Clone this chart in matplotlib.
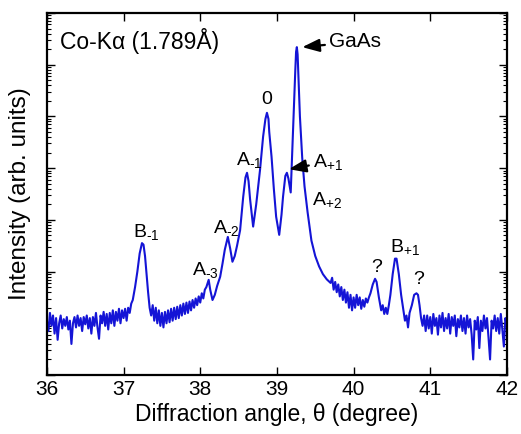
import numpy as np
import matplotlib
matplotlib.use("Agg")
import matplotlib.pyplot as plt
from matplotlib.ticker import LogLocator, NullFormatter, FixedLocator

# ---------------------------------------------------------------------------
# Data: diffraction angle (deg) and log10 intensity
# ---------------------------------------------------------------------------
theta_left = [36.00, 36.02, 36.04, 36.06, 36.08, 36.10, 36.12, 36.14, 36.16, 36.18,
              36.20, 36.22, 36.24, 36.26, 36.28, 36.30, 36.32, 36.34, 36.36, 36.38,
              36.40, 36.42, 36.44, 36.46, 36.48, 36.50, 36.52, 36.54, 36.56, 36.58,
              36.60, 36.62, 36.64, 36.66, 36.68, 36.70, 36.72, 36.74, 36.76, 36.78,
              36.80, 36.82, 36.84, 36.86, 36.88, 36.90, 36.92, 36.94, 36.96, 36.98,
              37.00, 37.02, 37.04, 37.06, 37.08, 37.10]
logI_left = [1.05, 0.85, 1.20, 0.95, 1.15, 0.80, 1.10, 0.68, 1.00, 1.15,
             0.90, 1.08, 0.95, 1.12, 0.88, 1.05, 0.60, 1.00, 1.12, 0.92,
             1.15, 0.95, 1.10, 0.85, 1.12, 0.98, 1.15, 0.90, 1.10, 0.80,
             1.12, 0.95, 1.20, 0.92, 0.70, 1.15, 1.00, 1.22, 0.95, 1.18,
             0.88, 1.20, 1.00, 1.25, 0.95, 1.22, 1.05, 1.28, 1.00, 1.25,
             1.10, 1.28, 1.05, 1.30, 1.20, 1.38]

# B-1 satellite
theta_b1 = [37.12, 37.15, 37.18, 37.21, 37.24, 37.26, 37.28, 37.30, 37.32, 37.34]
logI_b1 = [1.45, 1.70, 2.00, 2.35, 2.55, 2.52, 2.30, 1.95, 1.60, 1.30]

theta_mid = [37.36, 37.38, 37.40, 37.42, 37.44, 37.46, 37.48, 37.50, 37.52, 37.54,
             37.56, 37.58, 37.60, 37.62, 37.64, 37.66, 37.68, 37.70, 37.72, 37.74,
             37.76, 37.78, 37.80, 37.82, 37.84, 37.86, 37.88, 37.90, 37.92, 37.94,
             37.96, 37.98, 38.00, 38.02, 38.04, 38.06, 38.08]
logI_mid = [1.15, 1.35, 1.05, 1.30, 1.00, 1.25, 0.95, 1.20, 0.92, 1.22,
            1.00, 1.25, 1.02, 1.28, 1.05, 1.30, 1.08, 1.32, 1.10, 1.35,
            1.15, 1.38, 1.18, 1.40, 1.20, 1.42, 1.25, 1.45, 1.30, 1.48,
            1.35, 1.52, 1.40, 1.58, 1.48, 1.65, 1.70]

# superlattice satellites A-3 ... A+2 and the GaAs substrate peak
theta_main = [38.11, 38.13, 38.16, 38.19, 38.22, 38.26, 38.29, 38.32, 38.36, 38.39,
              38.42, 38.45, 38.48, 38.52, 38.56, 38.59, 38.61, 38.63, 38.65, 38.69,
              38.73, 38.78, 38.82, 38.85, 38.87, 38.89, 38.90, 38.93, 38.96, 38.99,
              39.03, 39.06, 39.08, 39.11, 39.13, 39.15, 39.18, 39.21, 39.24, 39.25,
              39.26, 39.27, 39.28, 39.30, 39.33, 39.36, 39.40, 39.45, 39.50, 39.55,
              39.60, 39.65]
logI_main = [1.84, 1.65, 1.45, 1.55, 1.72, 1.90, 2.15, 2.42, 2.67, 2.45,
             2.19, 2.30, 2.50, 2.80, 3.44, 3.82, 3.91, 3.75, 3.40, 2.87,
             3.30, 3.97, 4.61, 4.95, 5.07, 4.95, 4.70, 4.22, 3.60, 3.06,
             2.71, 3.10, 3.45, 3.85, 3.91, 3.80, 3.53, 4.74, 5.90, 6.25,
             6.34, 6.20, 5.80, 5.00, 4.20, 3.65, 3.15, 2.60, 2.30, 2.10,
             1.95, 1.85]

# tail, the two unknown peaks ("?") and B+1
theta_right = [39.70, 39.72, 39.74, 39.76, 39.78, 39.80, 39.82, 39.84, 39.86, 39.88,
               39.90, 39.92, 39.94, 39.96, 39.98, 40.00, 40.02, 40.04, 40.06, 40.08,
               40.10, 40.12, 40.14, 40.16, 40.18, 40.20, 40.22, 40.25, 40.28, 40.30,
               40.33, 40.36, 40.38, 40.40, 40.42, 40.44, 40.46, 40.48, 40.51, 40.54,
               40.56, 40.59, 40.62, 40.65, 40.67, 40.69, 40.71, 40.73, 40.76, 40.79,
               40.82, 40.84, 40.86, 40.88, 40.90, 40.92]
logI_right = [1.78, 1.88, 1.65, 1.80, 1.60, 1.75, 1.52, 1.70, 1.45, 1.65,
              1.40, 1.60, 1.30, 1.55, 1.25, 1.50, 1.30, 1.55, 1.35, 1.50,
              1.28, 1.45, 1.32, 1.48, 1.40, 1.50, 1.58, 1.75, 1.86, 1.80,
              1.50, 1.25, 1.35, 1.18, 1.30, 1.18, 1.35, 1.55, 1.95, 2.25,
              2.25, 1.95, 1.55, 1.25, 1.05, 1.15, 0.92, 1.20, 1.35, 1.55,
              1.58, 1.55, 1.35, 1.10, 0.95, 1.15]

theta_end = [40.94, 40.96, 40.98, 41.00, 41.02, 41.04, 41.06, 41.08, 41.10, 41.12,
             41.14, 41.16, 41.18, 41.20, 41.22, 41.24, 41.26, 41.28, 41.30, 41.32,
             41.34, 41.36, 41.38, 41.40, 41.42, 41.44, 41.46, 41.48, 41.50, 41.52,
             41.54, 41.56, 41.58, 41.60, 41.62, 41.64, 41.66, 41.68, 41.70, 41.72,
             41.74, 41.76, 41.78, 41.80, 41.82, 41.84, 41.86, 41.88, 41.90, 41.92,
             41.94, 41.96, 41.98, 42.00]
logI_end = [0.85, 1.15, 0.90, 1.12, 0.80, 1.18, 0.95, 1.10, 0.78, 1.15,
            0.92, 1.20, 0.85, 1.10, 0.90, 1.18, 0.80, 1.12, 0.95, 1.15,
            0.75, 1.08, 0.92, 1.15, 0.85, 1.10, 0.80, 1.15, 0.92, 1.08,
            0.78, 0.30, 1.05, 0.88, 1.12, 0.52, 1.05, 0.85, 1.15, 0.90,
            1.10, 0.72, 0.30, 1.05, 0.90, 1.15, 0.85, 1.10, 0.80, 1.18,
            0.88, 0.55, 1.10, 0.95]

theta = np.array(theta_left + theta_b1 + theta_mid + theta_main + theta_right + theta_end)
intensity = 10 ** np.array(logI_left + logI_b1 + logI_mid + logI_main + logI_right + logI_end)

# peak labels: (text, theta, log10 y, ha)
labels = [
    ("0", 38.87, 5.32, "center"),
    ("A$_{\u2010 1}$", 38.465, 4.16, "left"),
    ("A$_{+2}$", 39.456, 3.38, "left"),
    ("A$_{\u2010 2}$", 38.165, 2.84, "left"),
    ("A$_{\u2010 3}$", 37.89, 2.03, "left"),
    ("B$_{\u2010 1}$", 37.12, 2.77, "left"),
    ("?", 40.30, 2.07, "center"),
    ("B$_{+1}$", 40.47, 2.48, "left"),
    ("?", 40.85, 1.84, "center"),
]

# ---------------------------------------------------------------------------
# Plot
# ---------------------------------------------------------------------------
plt.rcParams.update({
    "font.family": ["Liberation Sans", "DejaVu Sans"],
    "mathtext.fontset": "custom",
    "mathtext.rm": "Liberation Sans",
    "mathtext.default": "regular",
})

fig = plt.figure(figsize=(5.21, 4.34), dpi=100)
ax = fig.add_axes([0.090, 0.136, 0.883, 0.834])

ax.plot(theta, intensity, color="#1414d6", lw=1.5)

ax.set_yscale("log")
ax.set_xlim(36, 42)
ax.set_ylim(1, 1e7)
ax.yaxis.set_major_locator(LogLocator(base=10, numticks=10))
ax.yaxis.set_minor_locator(LogLocator(base=10, subs=np.arange(2, 10), numticks=10))
ax.yaxis.set_major_formatter(NullFormatter())
ax.yaxis.set_minor_formatter(NullFormatter())
ax.xaxis.set_major_locator(FixedLocator([36, 37, 38, 39, 40, 41, 42]))

ax.tick_params(axis="both", which="both", direction="in", top=True, right=True)
ax.tick_params(axis="both", which="major", length=6, width=1.0, labelsize=15)
ax.tick_params(axis="y", which="minor", length=3, width=0.8)
for sp in ax.spines.values():
    sp.set_linewidth(1.6)

ax.set_xlabel("Diffraction angle, θ (degree)", fontsize=16.5, labelpad=3)
ax.set_ylabel("Intensity (arb. units)", fontsize=17.5, labelpad=8)

ax.text(36.17, 10 ** 6.45, "Co-Kα (1.789Å)", fontsize=16.5, ha="left", va="center")

for txt, x, ly, ha in labels:
    ax.text(x, 10 ** ly, txt, fontsize=14, ha=ha, va="center")

arrow = dict(arrowstyle="-|>,head_length=0.8,head_width=0.3", color="black",
             lw=1.6, shrinkA=1, shrinkB=0, mutation_scale=13)
ax.annotate("GaAs", xy=(39.33, 10 ** 6.34), xytext=(39.68, 10 ** 6.44),
            fontsize=15, ha="left", va="center", arrowprops=arrow)
ax.annotate("A$_{+1}$", xy=(39.156, 10 ** 3.98), xytext=(39.47, 10 ** 4.12),
            fontsize=14, ha="left", va="center", arrowprops=arrow)

fig.savefig("out.png", dpi=100)
